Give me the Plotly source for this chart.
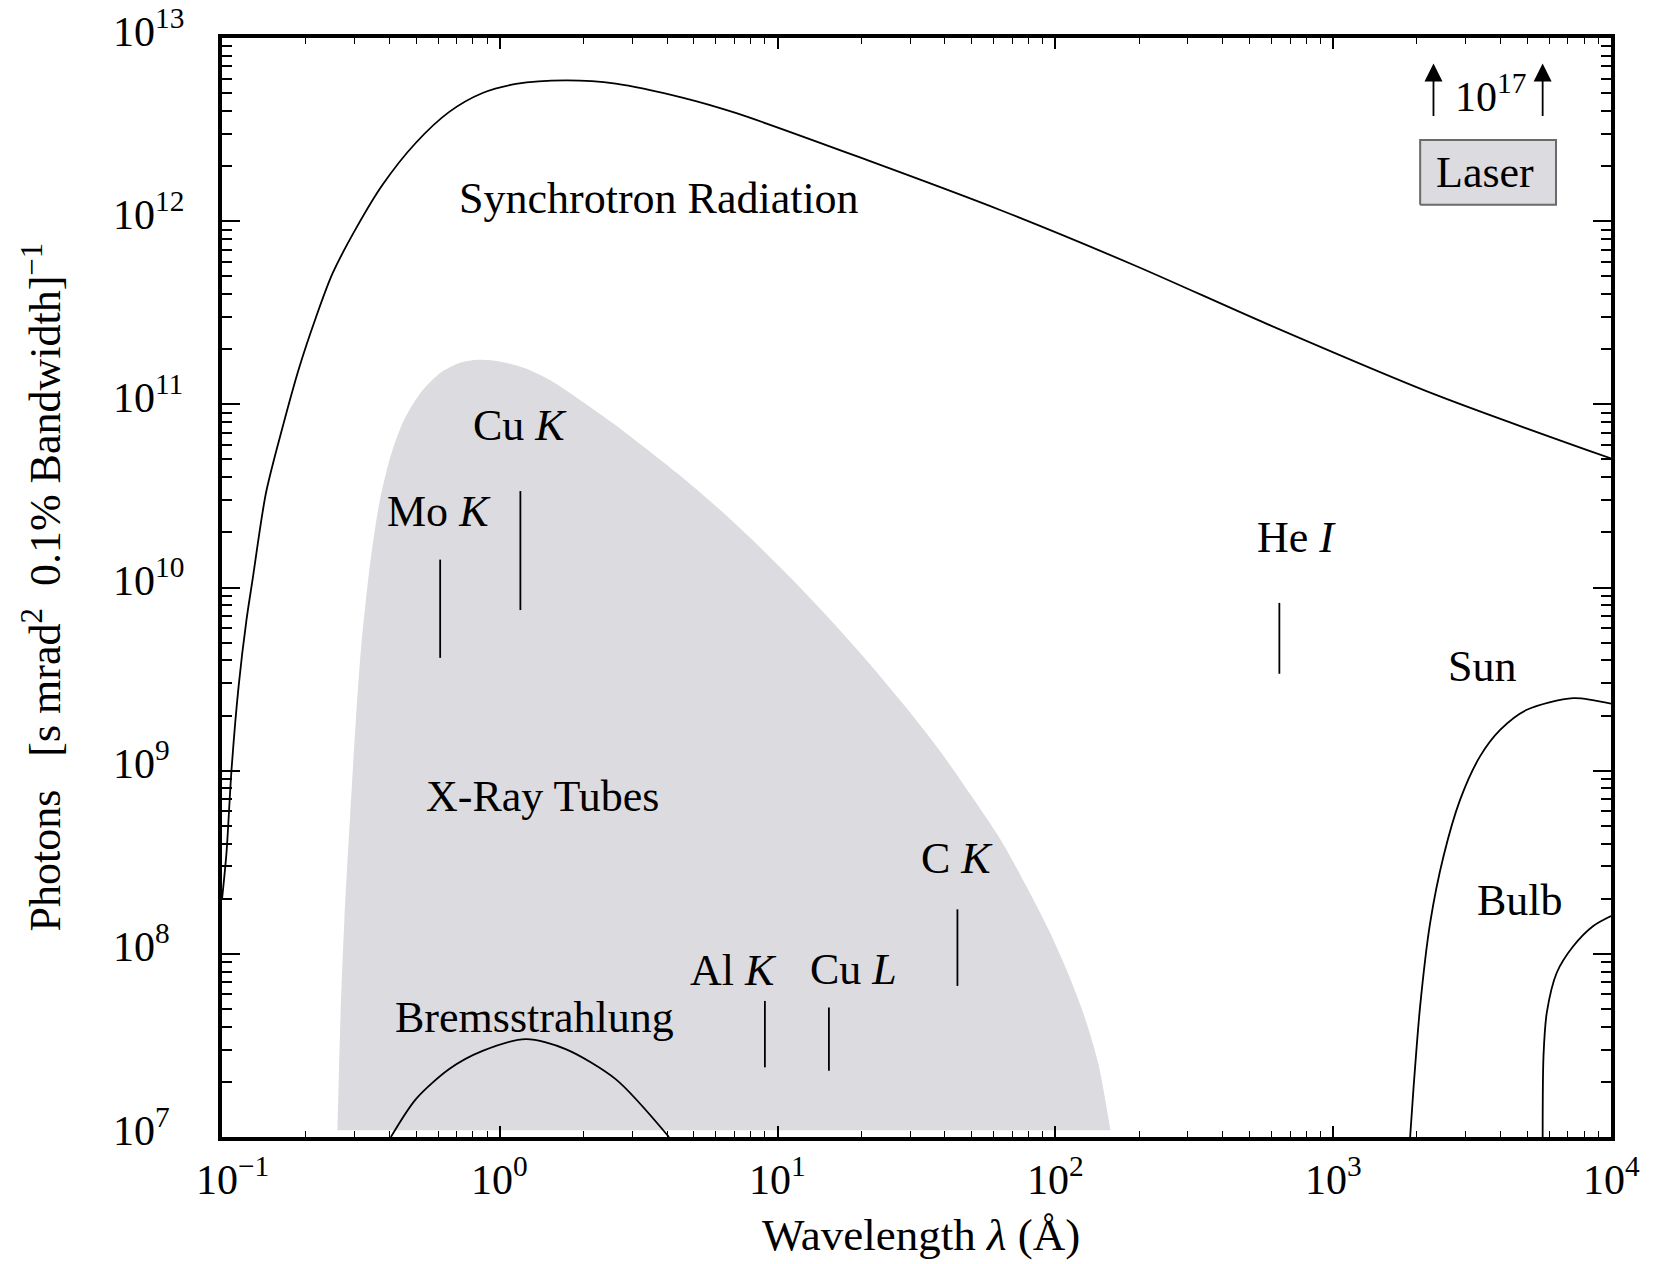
import math
import plotly.graph_objects as go

# ---------------- data ----------------
# Synchrotron radiation spectrum
sync_wl = [0.1, 0.1038, 0.1082, 0.1147, 0.1225, 0.1288, 0.1439, 0.1652, 0.1897,
           0.2178, 0.2500, 0.3034, 0.3784, 0.4989, 0.6577, 0.8670, 1.143, 1.726,
           2.612, 4.539, 7.063, 21.28, 64.27, 194.1, 576.8, 2296, 10000]
sync_ph = [1.98e8, 3.57e8, 1.01e9, 2.87e9, 6.65e9, 1.10e10, 3.27e10, 7.50e10, 1.59e11,
           2.98e11, 5.18e11, 9.10e11, 1.58e12, 2.68e12, 3.95e12, 5.01e12, 5.61e12, 5.87e12,
           5.64e12, 4.73e12, 3.90e12, 2.14e12, 1.14e12, 5.71e11, 2.75e11, 1.14e11, 5.06e10]

# X-ray tube envelope (outline of the grey region, left edge -> peak -> right edge)
xray_wl = [0.2603, 0.2669, 0.2758, 0.2887, 0.3034, 0.3162, 0.3296, 0.3464, 0.3701,
           0.4053, 0.4515, 0.5197, 0.6135, 0.7239, 0.8405,
           1.008, 1.240, 1.526, 1.956, 2.614, 3.493, 4.668, 6.237, 8.334, 11.14,
           15.51, 21.61, 28.87, 38.58, 49.46, 63.42, 78.00, 94.37, 111.4, 128.2,
           142.8, 157.7]
xray_ph = [1.09e7, 4.40e7, 1.54e8, 5.41e8, 1.90e9, 4.56e9, 8.55e9, 1.60e10, 3.00e10,
           5.27e10, 8.18e10, 1.16e11, 1.49e11, 1.69e11, 1.75e11,
           1.71e11, 1.57e11, 1.35e11, 1.05e11, 7.69e10, 5.47e10, 3.85e10, 2.64e10, 1.75e10, 1.13e10,
           6.65e9, 3.78e9, 2.23e9, 1.27e9, 7.40e8, 4.21e8, 2.39e8, 1.36e8, 7.73e7, 4.40e7,
           2.50e7, 1.09e7]

# Bremsstrahlung
brems_wl = [0.4055, 0.4989, 0.6577, 0.8670, 1.242, 1.726, 2.612, 4.064]
brems_ph = [1.0e7, 1.61e7, 2.35e7, 2.95e7, 3.42e7, 3.02e7, 2.07e7, 1.0e7]

# Sun
sun_wl = [1892, 1945, 2056, 2234, 2495, 2864, 3381, 3990, 4977, 7311, 10000]
sun_ph = [1.0e7, 1.83e7, 5.20e7, 1.48e8, 3.41e8, 6.95e8, 1.20e9, 1.67e9, 2.15e9, 2.49e9, 2.32e9]

# Light bulb
bulb_wl = [5675, 5715, 5875, 6383, 7311, 8630, 10000]
bulb_ph = [1.0e7, 2.77e7, 4.79e7, 7.91e7, 1.10e8, 1.42e8, 1.61e8]

# Characteristic emission lines
line_names = ["Mo <i>K</i>", "Cu <i>K</i>", "Al <i>K</i>", "Cu <i>L</i>", "C <i>K</i>", "He <i>I</i>"]
line_wl = [0.610, 1.186, 9.0, 15.3, 44.4, 640]
line_lo = [4.13e9, 7.53e9, 2.40e7, 2.30e7, 6.68e7, 3.38e9]
line_hi = [1.42e10, 3.36e10, 5.53e7, 5.09e7, 1.75e8, 8.24e9]
line_label_wl = [0.604, 1.18, 6.95, 18.75, 44.1, 736]
line_label_ph = [2.61e10, 7.69e10, 8.13e7, 8.24e7, 3.30e8, 1.88e10]

# Laser box (wavelength span, photon span) and arrows
laser_wl = [2056, 6339]
laser_ph = [1.23e12, 2.77e12]
laser_arrow_wl = [2296, 5675]
laser_arrow_tip = 7.25e12

# Region labels
region_names = ["Synchrotron Radiation", "X-Ray Tubes", "Bremsstrahlung", "Sun", "Bulb"]
region_wl = [3.73, 1.43, 1.33, 3436, 4710]
region_ph = [1.33e12, 7.21e8, 4.51e7, 3.69e9, 1.96e8]

# Axes
x_tick_vals = [0.1, 1, 10, 100, 1000, 10000]
x_tick_text = ["10<sup>\u22121</sup>", "10<sup>0</sup>", "10<sup>1</sup>", "10<sup>2</sup>",
               "10<sup>3</sup>", "10<sup>4</sup>"]
y_tick_vals = [1e7, 1e8, 1e9, 1e10, 1e11, 1e12, 1e13]
y_tick_text = ["10<sup>7</sup>", "10<sup>8</sup>", "10<sup>9</sup>", "10<sup>10</sup>",
               "10<sup>11</sup>", "10<sup>12</sup>", "10<sup>13</sup>"]

# ---------------- styling ----------------
W, H = 1656, 1264
ML, MR, MT, MB = 222, 45, 38, 127
PW = W - ML - MR
PH = H - MT - MB
FONT = "Liberation Serif, Times New Roman, serif"
FS_TICK = 42
FS_LABEL = 44
FS_TITLE = 45
GREY = "#dcdbdf"
LW = 1.8

fig = go.Figure()

fig.add_trace(go.Scatter(x=xray_wl, y=xray_ph, mode="lines", fill="toself",
                         fillcolor=GREY, line=dict(width=0, color=GREY, shape="spline", smoothing=0.8),
                         hoverinfo="skip"))
for wl, ph in [(sync_wl, sync_ph), (brems_wl, brems_ph), (sun_wl, sun_ph), (bulb_wl, bulb_ph)]:
    fig.add_trace(go.Scatter(x=wl, y=ph, mode="lines",
                             line=dict(color="black", width=LW, shape="spline", smoothing=0.8)))

lx, ly = [], []
for w, lo, hi in zip(line_wl, line_lo, line_hi):
    lx += [w, w, None]
    ly += [lo, hi, None]
fig.add_trace(go.Scatter(x=lx, y=ly, mode="lines", line=dict(color="black", width=LW)))

# Laser box
fig.add_trace(go.Scatter(x=[laser_wl[0], laser_wl[1], laser_wl[1], laser_wl[0], laser_wl[0]],
                         y=[laser_ph[0], laser_ph[0], laser_ph[1], laser_ph[1], laser_ph[0]],
                         mode="lines", fill="toself", fillcolor=GREY,
                         line=dict(color="#6a6a6a", width=2)))


def txt(x, y, text, size=FS_LABEL, **kw):
    d = dict(x=x, y=y, text=text, showarrow=False,
             font=dict(family=FONT, size=size, color="black"))
    d.update(kw)
    fig.add_annotation(**d)


for name, w, p in zip(line_names, line_label_wl, line_label_ph):
    txt(math.log10(w), math.log10(p), name)
for name, w, p in zip(region_names, region_wl, region_ph):
    txt(math.log10(w), math.log10(p), name)

txt(math.log10(math.sqrt(laser_wl[0] * laser_wl[1])) - 0.01,
    math.log10(math.sqrt(laser_ph[0] * laser_ph[1])), "Laser")

for w in laser_arrow_wl:
    fig.add_annotation(x=math.log10(w), y=math.log10(laser_arrow_tip), ax=0, ay=54,
                       text="", showarrow=True, arrowhead=2, arrowsize=2.0,
                       arrowwidth=1.8, arrowcolor="black")
txt(math.log10(math.sqrt(laser_arrow_wl[0] * laser_arrow_wl[1])) + 0.01,
    math.log10(4.68e12), "10<sup>17</sup>", size=FS_TICK, yshift=5)

# tick labels
for v, t in zip(y_tick_vals, y_tick_text):
    txt((111 - ML) / PW, math.log10(v), t, size=FS_TICK, xref="paper", xanchor="left", yshift=10)
for v, t in zip(x_tick_vals, x_tick_text):
    txt(math.log10(v), 0, t, size=FS_TICK, yref="paper", yanchor="middle", yshift=-39,
        xshift=(10 if "\u2212" in t else 0))

# axis titles
txt(0.5 + 4 / PW, 0, "Wavelength <i>\u03bb</i> (\u00c5)", size=FS_TITLE, xref="paper", yref="paper",
    yanchor="middle", yshift=-98)
txt((42 - ML) / PW, 0.5,
    "Photons\u00a0\u00a0\u00a0[s mrad<sup>2</sup>\u00a0\u00a00.1%\u00a0Bandwidth]<sup>\u22121</sup>",
    size=FS_LABEL, xref="paper", yref="paper", textangle=-90, xanchor="center", yanchor="middle")

axis_common = dict(type="log", showline=True, linecolor="black", linewidth=4, mirror="ticks",
                   ticks="inside", tickcolor="black", showgrid=False, zeroline=False,
                   showticklabels=False, dtick=1)
fig.update_xaxes(range=[-1, 4], ticklen=11, tickwidth=1.5,
                 minor=dict(ticks="inside", ticklen=6, tickwidth=1.3, tickcolor="black",
                            dtick="D1", showgrid=False),
                 **axis_common)
fig.update_yaxes(range=[7, 13], ticklen=18, tickwidth=2,
                 minor=dict(ticks="inside", ticklen=10, tickwidth=1.5, tickcolor="black",
                            dtick="D1", showgrid=False),
                 **axis_common)

fig.update_layout(width=W, height=H, margin=dict(l=ML, r=MR, t=MT, b=MB),
                  paper_bgcolor="white", plot_bgcolor="white", showlegend=False,
                  font=dict(family=FONT, size=FS_TICK, color="black"))

fig.write_html("out.html", config={"displayModeBar": False},
               post_script="document.body.style.margin='0';document.body.style.overflow='hidden';")
